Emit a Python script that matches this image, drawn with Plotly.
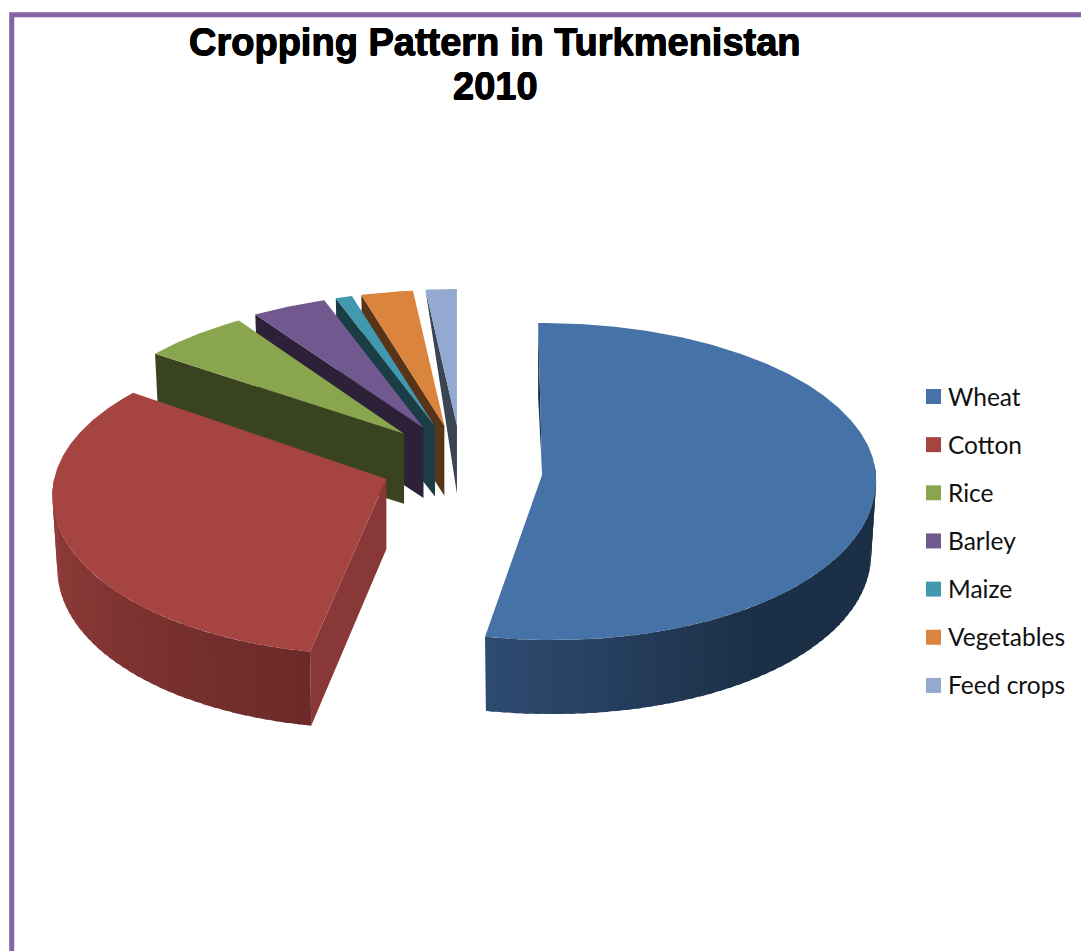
import numpy as np
import plotly.graph_objects as go

# Cropping shares in percent, clockwise from twelve o'clock
crops = ["Wheat", "Cotton", "Rice", "Barley", "Maize", "Vegetables", "Feed crops"]
shares = [53.2, 33.1, 5.3, 3.6, 0.8, 2.5, 1.5]

# Palette: top surface, cut face, wall shade next to the cut, wall shade further round
top_colors = ["#4572A7", "#A64441", "#89A54E", "#71588F", "#4198AF", "#DB843D", "#93A9CF"]
face_colors = ["#1A2E47", "#883836", "#3A431F", "#2D2139", "#1A3D46", "#5A3418", "#3B4453"]
wall_near = ["#2D4B70", "#6B2A28", "#3A431F", "#2D2139", "#1A3D46", "#5A3418", "#3B4453"]
wall_far = ["#1B2F47", "#953E3B", "#3A431F", "#2D2139", "#1A3D46", "#5A3418", "#3B4453"]
wall_span = [50, 85, 30, 30, 30, 30, 30]
face_parts = ["outer", "full", "full", "full", "full", "full", "inner"]
rim_scale = [1, 1, 0.983, 1, 1, 1, 1]

title_lines = ["Cropping Pattern in Turkmenistan", "2010"]

# Projection of the exploded pie on the page, in pixels
RX = 334
RY_NEAR, RY_FAR = 160, 157
DEPTH = 74
BASE_SCALE = 0.985
PULL_X, CENTER_X = 80, 462.5
RING_Y, RING_PULL, RING_SKEW = 480.3, 34.5, -3.7
NEAR_SPREAD = 10


def blend(c0, c1, t):
    a = [int(c0[i:i + 2], 16) for i in (1, 3, 5)]
    b = [int(c1[i:i + 2], 16) for i in (1, 3, 5)]
    return "rgb({},{},{})".format(*[round(p + (q - p) * t) for p, q in zip(a, b)])


def poly(xs, ys, color):
    return go.Scatter(
        x=list(xs), y=list(ys), mode="lines", fill="toself", fillcolor=color,
        line=dict(color=color, width=0),
        hoverinfo="skip", showlegend=False,
    )


fig = go.Figure()

edges = np.concatenate([[0], np.cumsum(shares)]) / np.sum(shares) * 360
slices = list(range(len(crops)))
front_cut = edges[1]

# Paint far wedges first so that nearer ones cover them
for i in reversed(slices):
    t0, t1 = edges[i], edges[i + 1]
    mid = np.radians((t0 + t1) / 2)
    s, c = np.sin(mid), np.cos(mid)

    apex_x = CENTER_X + PULL_X * np.sign(s) * abs(s) ** 0.9 - 10 * abs(s) * max(c, 0)
    ring_y = RING_Y - RING_PULL * c + RING_SKEW * s
    lift = 12.5 + 10 * np.cos(mid - np.radians(320))
    apex_y = ring_y - lift

    def rim(deg, scale=1.0, drop=0.0):
        r = np.radians(deg)
        cr = np.cos(r)
        spread = np.sign(s) * NEAR_SPREAD * max(0.0, -cr) ** 2 * scale
        ry = RY_FAR if cr > 0 else RY_NEAR
        return apex_x + RX * rim_scale[i] * scale * np.sin(r) + spread, ring_y - ry * cr + drop

    # Cut face along the leading edge
    ox, oy = rim(t0)
    bx, by = rim(t0, BASE_SCALE, DEPTH)
    if face_parts[i] == "outer":
        # Only a sliver shows: shift the top corner off the apex line
        fx, fy = [ox - 4, ox - 4, apex_x], [oy, by, apex_y]
    elif face_parts[i] == "inner":
        fx, fy = [ox, apex_x, apex_x], [oy, apex_y, apex_y + DEPTH - 6]
    else:
        fx, fy = [ox, apex_x, apex_x, bx], [oy, apex_y, apex_y + DEPTH - 4, by]
    fig.add_trace(poly(fx, fy, face_colors[i]))

    # Curved outer wall, shaded in narrow overlapping bands
    lo, hi = max(t0, 84), min(t1, 276)
    if hi > lo:
        steps = np.arange(lo, hi, 2.0).tolist() + [hi]
        for a, b in zip(steps[:-1], steps[1:]):
            # Walk away from the front cut so each band overlaps the next one
            arc = np.linspace(a, min(b + 1, hi), 5)
            top = [rim(d) for d in arc]
            bot = [rim(d, BASE_SCALE, DEPTH) for d in arc[::-1]]
            shade = blend(wall_near[i], wall_far[i], min(1, abs(front_cut - (a + b) / 2) / wall_span[i]))
            fig.add_trace(poly([p[0] for p in top + bot], [p[1] for p in top + bot], shade))

    # Top surface
    arc = np.linspace(t0, t1, max(4, int(t1 - t0) * 2))
    pts = [rim(d) for d in arc]
    top_x = [apex_x] + [p[0] for p in pts]
    if face_parts[i] == "outer":
        top_x[1] -= 4
    fig.add_trace(go.Scatter(
        x=top_x, y=[apex_y] + [p[1] for p in pts],
        mode="lines", fill="toself", fillcolor=top_colors[i],
        line=dict(color=top_colors[i], width=0),
        name=crops[i], text=f"{crops[i]}: {shares[i]}%", hoverinfo="text", showlegend=False,
    ))

# Key to the right of the pie
KEY_X, KEY_TOP, KEY_STEP = 933.5, 396.5, 48.15
key_y = [KEY_TOP + KEY_STEP * i for i in slices]
fig.add_trace(go.Scatter(
    x=[KEY_X] * len(crops), y=key_y, mode="markers",
    marker=dict(symbol="square", size=15, color=top_colors, line=dict(width=0)),
    hoverinfo="skip", showlegend=False,
))
annotations = [
    dict(x=945.5, y=y - 0.5, xref="x", yref="y", text=name, showarrow=False, xanchor="left", yanchor="middle",
         font=dict(family="Lato", size=24.5, color="#111111"))
    for name, y in zip(crops, key_y)
]

# Two-line heading, thickened with a hairline text shadow
heavy = "0.5px 0 0 #000, -0.5px 0 0 #000, 0 0.5px 0 #000, 0 -0.5px 0 #000"
for line, y in zip(title_lines, [42, 86]):
    annotations.append(dict(
        x=495, y=y, xref="x", yref="y", text=line, showarrow=False,
        xanchor="center", yanchor="middle",
        font=dict(family="Liberation Sans", size=38, color="black", weight="bold", shadow=heavy),
    ))

# Purple frame along the top and left edges
frame = dict(
    type="path", path="M 1090 14.7 L 11.7 14.7 L 11.7 960",
    line=dict(color="#8364A4", width=5), layer="above",
)

fig.update_layout(
    width=1081, height=951, autosize=False,
    margin=dict(l=0, r=0, t=0, b=0),
    paper_bgcolor="white", plot_bgcolor="white",
    xaxis=dict(range=[0, 1081], visible=False, fixedrange=True),
    yaxis=dict(range=[951, 0], visible=False, fixedrange=True),
    showlegend=False,
    shapes=[frame],
    annotations=annotations,
)

fig.write_html("out.html")
